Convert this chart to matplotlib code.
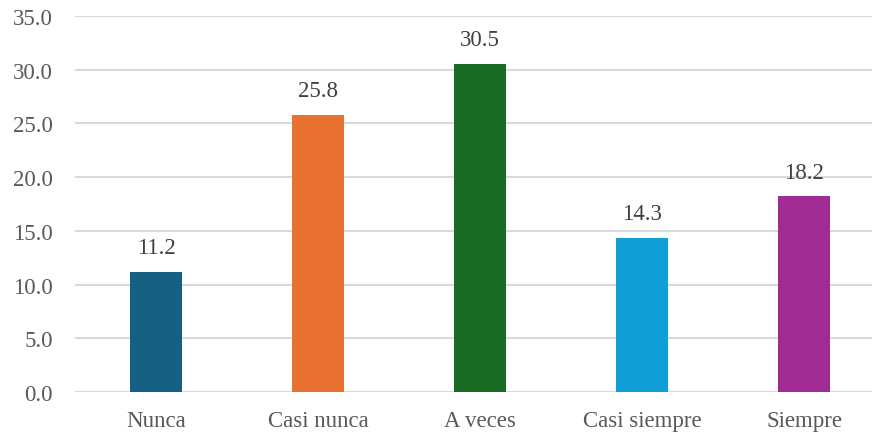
import matplotlib
matplotlib.use("Agg")
import matplotlib.pyplot as plt

categories = ["Nunca", "Casi nunca", "A veces", "Casi siempre", "Siempre"]
values = [11.2, 25.8, 30.5, 14.3, 18.2]
colors = ["#156082", "#e97132", "#196b24", "#0f9ed5", "#a02b93"]
yticks = [0, 5, 10, 15, 20, 25, 30, 35]

plt.rcParams["font.family"] = ["Liberation Serif", "DejaVu Serif"]

fig = plt.figure(figsize=(8.72, 4.35), dpi=100)
ax = fig.add_axes([75 / 872, 1 - 393 / 435, 810 / 872, 376 / 435])

x = list(range(len(categories)))
bars = ax.bar(x, values, width=0.315, color=colors, zorder=3)
for xi, v in zip(x, values):
    ax.annotate(f"{v:.1f}", (xi, v), xytext=(0, 10), textcoords="offset points",
                ha="center", va="bottom", fontsize=16.5, color="#404040")

ax.set_xlim(-0.5, len(categories) - 0.5)
ax.set_ylim(0, 35)
ax.set_yticks(yticks)
ax.set_yticklabels([f"{t:.1f}" for t in yticks])
ax.set_xticks(x)
ax.set_xticklabels(categories)
ax.tick_params(axis="both", length=0, labelsize=16.5, labelcolor="#595959")
ax.tick_params(axis="y", pad=16)
ax.tick_params(axis="x", pad=13)
ax.grid(axis="y", color="#d9d9d9", linewidth=1.5, zorder=0)
for s in ax.spines.values():
    s.set_visible(False)

fig.savefig("out.png", dpi=100)
